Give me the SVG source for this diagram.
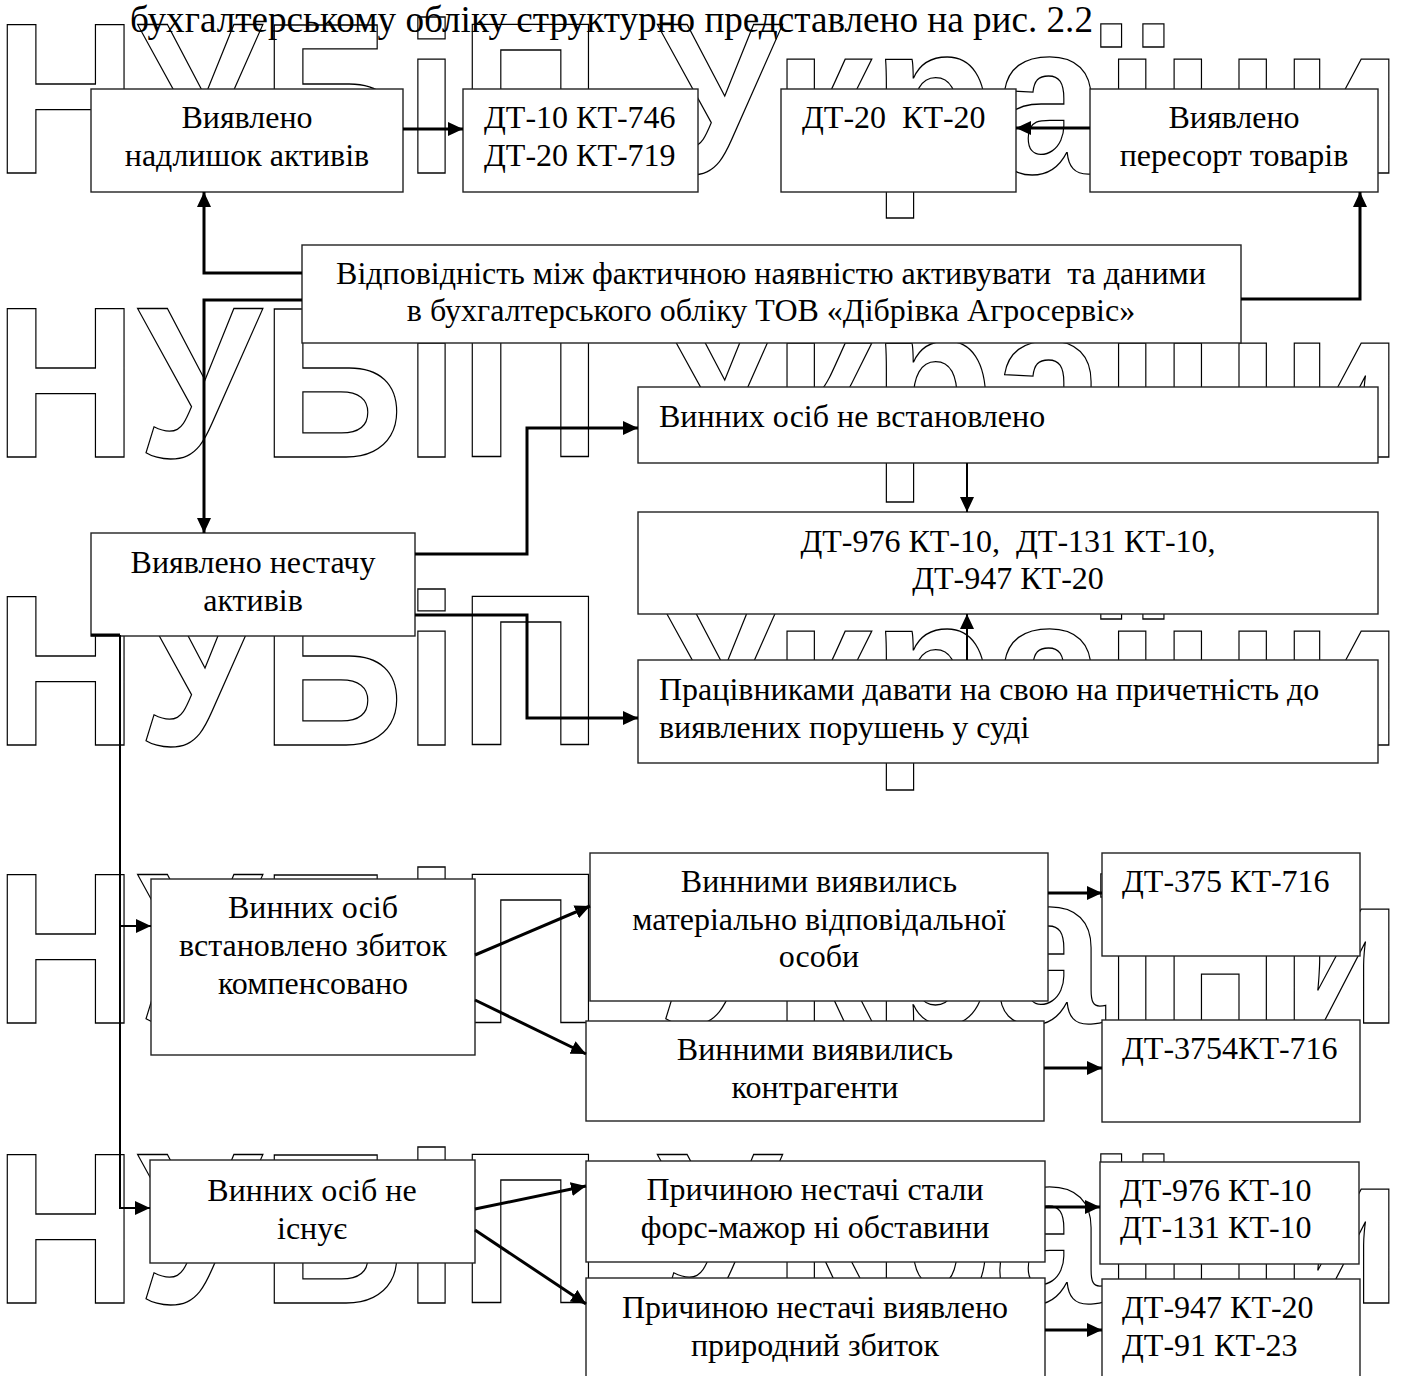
<svg xmlns="http://www.w3.org/2000/svg" width="1403" height="1376" viewBox="0 0 1403 1376">
<defs>
<style>
.wm{font-family:"Liberation Sans",Arial,sans-serif;font-weight:bold;font-size:216px;fill:none;stroke:#000;stroke-width:1.3}
.box{fill:#fff;stroke:#222;stroke-width:1.4}
.t{font-family:"Liberation Serif","Times New Roman",serif;font-size:32px;fill:#000}
.c{text-anchor:middle}
.ln{fill:none;stroke:#000;stroke-width:3}
.thin{fill:none;stroke:#000;stroke-width:2}
</style>
<marker id="ah" markerUnits="userSpaceOnUse" markerWidth="16" markerHeight="14" refX="15" refY="7" orient="auto">
<path d="M0,0 L15,7 L0,14 z" fill="#000"/>
</marker>
</defs>
<rect width="1403" height="1376" fill="#fff"/>
<g id="watermark">
<text class="wm" transform="translate(-6,173) scale(0.92,1)">НУБіП України</text>
<text class="wm" transform="translate(-6,457) scale(0.92,1)">НУБіП України</text>
<text class="wm" transform="translate(-6,745) scale(0.92,1)">НУБіП України</text>
<text class="wm" transform="translate(-6,1023) scale(0.92,1)">НУБіП України</text>
<text class="wm" transform="translate(-6,1303) scale(0.92,1)">НУБіП України</text>
</g>
<text id="heading" class="t" x="130" y="32" style="font-size:37px" textLength="963" lengthAdjust="spacingAndGlyphs">бухгалтерському обліку структурно представлено на рис. 2.2</text>
<g id="n1"><rect class="box" x="91" y="89" width="312" height="103"/><text class="t c" x="247" y="128">Виявлено</text><text class="t c" x="247" y="166">надлишок активів</text></g>
<g id="n2"><rect class="box" x="463" y="89" width="235" height="103"/><text class="t" x="484" y="128">ДТ-10 КТ-746</text><text class="t" x="484" y="166">ДТ-20 КТ-719</text></g>
<g id="n3"><rect class="box" x="781" y="89" width="235" height="103"/><text class="t" x="802" y="128" xml:space="preserve">ДТ-20  КТ-20</text></g>
<g id="n4"><rect class="box" x="1090" y="89" width="288" height="103"/><text class="t c" x="1234" y="128">Виявлено</text><text class="t c" x="1234" y="166">пересорт товарів</text></g>
<g id="n5"><rect class="box" x="302" y="245" width="939" height="98"/><text class="t c" x="771" y="284" xml:space="preserve">Відповідність між фактичною наявністю активувати  та даними</text><text class="t c" x="771" y="321">в бухгалтерського обліку ТОВ «Дібрівка Агросервіс»</text></g>
<g id="n6"><rect class="box" x="638" y="387" width="740" height="76"/><text class="t" x="659" y="427">Винних осіб не встановлено</text></g>
<g id="n7"><rect class="box" x="638" y="512" width="740" height="102"/><text class="t c" x="1008" y="552" xml:space="preserve">ДТ-976 КТ-10,  ДТ-131 КТ-10,</text><text class="t c" x="1008" y="589">ДТ-947 КТ-20</text></g>
<g id="n8"><rect class="box" x="91" y="533" width="324" height="103"/><text class="t c" x="253" y="573">Виявлено нестачу</text><text class="t c" x="253" y="611">активів</text></g>
<g id="n9"><rect class="box" x="638" y="660" width="740" height="103"/><text class="t" x="659" y="700">Працівниками давати на свою на причетність до</text><text class="t" x="659" y="738">виявлених порушень у суді</text></g>
<g id="n10"><rect class="box" x="151" y="879" width="324" height="176"/><text class="t c" x="313" y="918">Винних осіб</text><text class="t c" x="313" y="956">встановлено збиток</text><text class="t c" x="313" y="994">компенсовано</text></g>
<g id="n11"><rect class="box" x="590" y="853" width="458" height="148"/><text class="t c" x="819" y="892">Винними виявились</text><text class="t c" x="819" y="930">матеріально відповідальної</text><text class="t c" x="819" y="967">особи</text></g>
<g id="n12"><rect class="box" x="1102" y="853" width="258" height="103"/><text class="t" x="1122" y="892">ДТ-375 КТ-716</text></g>
<g id="n13"><rect class="box" x="586" y="1021" width="458" height="100"/><text class="t c" x="815" y="1060">Винними виявились</text><text class="t c" x="815" y="1098">контрагенти</text></g>
<g id="n14"><rect class="box" x="1102" y="1020" width="258" height="102"/><text class="t" x="1122" y="1059">ДТ-3754КТ-716</text></g>
<g id="n15"><rect class="box" x="150" y="1160" width="325" height="103"/><text class="t c" x="312" y="1201">Винних осіб не</text><text class="t c" x="312" y="1239">існує</text></g>
<g id="n16"><rect class="box" x="586" y="1161" width="459" height="101"/><text class="t c" x="815" y="1200">Причиною нестачі стали</text><text class="t c" x="815" y="1238">форс-мажор ні обставини</text></g>
<g id="n17"><rect class="box" x="1100" y="1162" width="259" height="102"/><text class="t" x="1120" y="1201">ДТ-976 КТ-10</text><text class="t" x="1120" y="1238">ДТ-131 КТ-10</text></g>
<g id="n18"><rect class="box" x="586" y="1278" width="459" height="105"/><text class="t c" x="815" y="1318">Причиною нестачі виявлено</text><text class="t c" x="815" y="1356">природний збиток</text></g>
<g id="n19"><rect class="box" x="1102" y="1279" width="258" height="104"/><text class="t" x="1122" y="1318">ДТ-947 КТ-20</text><text class="t" x="1122" y="1356">ДТ-91 КТ-23</text></g>
<g id="connectors">
<path class="ln" d="M403,129 H463" marker-end="url(#ah)"/>
<path class="ln" d="M1090,128 H1016" marker-end="url(#ah)"/>
<path class="ln" d="M302,273 H204 V192" marker-end="url(#ah)"/>
<path class="ln" d="M1241,299 H1360 V192" marker-end="url(#ah)"/>
<path class="ln" d="M302,300 H204 V533" marker-end="url(#ah)"/>
<path class="ln" d="M415,554 H527 V428 H638" marker-end="url(#ah)"/>
<path class="ln" d="M415,615 H527 V718 H638" marker-end="url(#ah)"/>
<path class="thin" d="M967,463 V512" marker-end="url(#ah)"/>
<path class="thin" d="M967,660 V614" marker-end="url(#ah)"/>
<path class="ln" d="M91,635 H120"/>
<path class="thin" d="M120,635 V1208 H150" marker-end="url(#ah)"/>
<path class="thin" d="M120,926 H151" marker-end="url(#ah)"/>
<path class="ln" d="M475,955 L590,906" marker-end="url(#ah)"/>
<path class="ln" d="M475,1000 L586,1054" marker-end="url(#ah)"/>
<path class="ln" d="M475,1209 L586,1186" marker-end="url(#ah)"/>
<path class="ln" d="M475,1230 L586,1304" marker-end="url(#ah)"/>
<path class="ln" d="M1048,893 H1102" marker-end="url(#ah)"/>
<path class="ln" d="M1044,1068 H1102" marker-end="url(#ah)"/>
<path class="ln" d="M1045,1207 H1100" marker-end="url(#ah)"/>
<path class="ln" d="M1045,1330 H1102" marker-end="url(#ah)"/>
</g>
</svg>
